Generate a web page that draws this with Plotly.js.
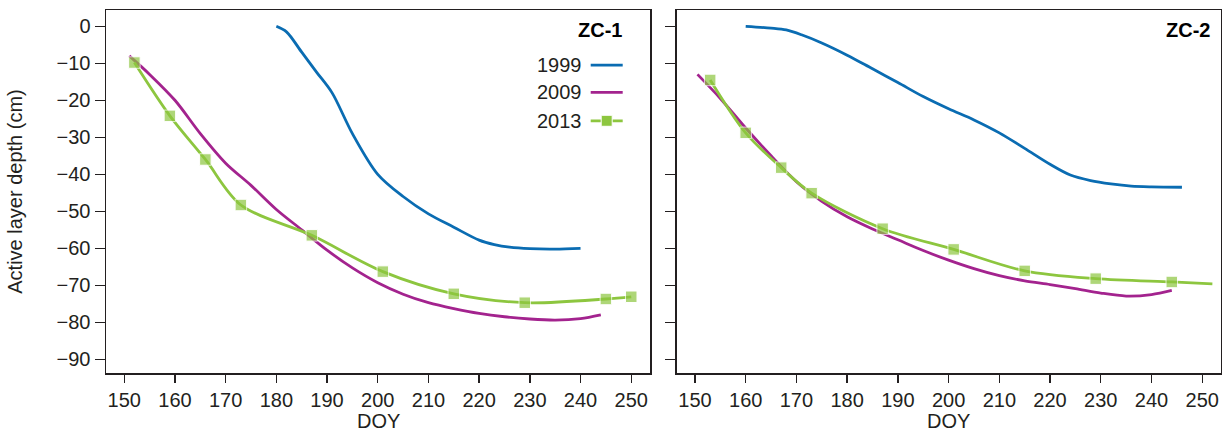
<!DOCTYPE html>
<html><head><meta charset="utf-8">
<script src="https://cdn.plot.ly/plotly-3.0.1.min.js"></script>
<style>html,body{margin:0;padding:0;background:#fff}#chart{width:1222px;height:432px}</style>
</head><body><div id="chart"></div>
<script>
// ---- Data (DOY vs active layer depth, cm) ----
const zc1_1999_doy   = [180,182,185,188,191,195,200,205,210,215,220,223,226,230,235,240];
const zc1_1999_depth = [0,-1.5,-7,-12.5,-18,-29,-40,-46,-50.7,-54.3,-57.8,-59,-59.7,-60.1,-60.2,-60];

const zc1_2009_doy   = [151,155,160,165,170,175,180,185,190,195,200,205,210,215,220,225,230,235,240,244];
const zc1_2009_depth = [-8,-13,-20,-29,-37,-43,-49.5,-55,-60.5,-65.3,-69.3,-72.4,-74.7,-76.3,-77.6,-78.5,-79.1,-79.4,-79,-78];

const zc1_2013_doy   = [152,159,166,173,187,201,215,229,245,250];
const zc1_2013_depth = [-9.8,-24.2,-36,-48.3,-56.5,-66.3,-72.3,-74.7,-73.7,-73.1];

const zc2_1999_doy   = [160,165,168,171,175,180,185,190,195,200,205,210,215,220,224,228,232,236,240,246];
const zc2_1999_depth = [0,-0.5,-1,-2.3,-4.5,-7.8,-11.5,-15.2,-19,-22.3,-25.3,-28.8,-33,-37.3,-40.2,-41.7,-42.6,-43.2,-43.4,-43.5];

const zc2_2009_doy   = [150.5,155,160,165,170,175,180,185,190,195,200,205,210,215,220,225,230,235,240,244];
const zc2_2009_depth = [-13,-19.5,-27.5,-35,-42,-47.3,-51.5,-54.8,-57.7,-60.6,-63.2,-65.5,-67.4,-68.8,-69.8,-70.9,-72.1,-72.9,-72.5,-71.4];

const zc2_2013_doy   = [153,160,167,173,187,201,215,229,244,252];
const zc2_2013_depth = [-14.5,-28.8,-38.2,-45.1,-54.7,-60.3,-66.1,-68.2,-69.1,-69.6];

const years = ["1999","2009","2013"];
const panels = ["ZC-1","ZC-2"];
const xTitle = "DOY";
const yTitle = "Active layer depth (cm)";

// ---- Styles ----
const C1999 = "#0a6cb2", C2009 = "#a3238e", C2013 = "#8dc63f";
const FONT = "Liberation Sans, Arial, Helvetica, sans-serif";
const INK = "#231f20";
const LW = 2.8;

function lineTrace(x, y, color, xa, ya) {
  return {x, y, xaxis: xa, yaxis: ya, type: "scatter", mode: "lines",
    line: {color, width: LW, shape: "spline", smoothing: 0.9}, showlegend: false, hoverinfo: "x+y"};
}
function markTrace(x, y, xa, ya, markedCount) {
  return {x, y, xaxis: xa, yaxis: ya, type: "scatter", mode: "lines+markers",
    line: {color: C2013, width: LW, shape: "spline", smoothing: 0.9},
    marker: {symbol: "square", color: C2013, size: x.map((v, i) => i < markedCount ? 11.5 : 0),
             line: {color: "#ffffff", width: 1}},
    showlegend: false, hoverinfo: "x+y"};
}

const data = [
  lineTrace(zc1_1999_doy, zc1_1999_depth, C1999, "x", "y"),
  lineTrace(zc1_2009_doy, zc1_2009_depth, C2009, "x", "y"),
  markTrace(zc1_2013_doy, zc1_2013_depth, "x", "y", zc1_2013_doy.length),
  lineTrace(zc2_1999_doy, zc2_1999_depth, C1999, "x2", "y2"),
  lineTrace(zc2_2009_doy, zc2_2009_depth, C2009, "x2", "y2"),
  markTrace(zc2_2013_doy, zc2_2013_depth, "x2", "y2", zc2_2013_doy.length - 1)
];

const W = 1222;
const FS = 20;
const xBase = {
  range: [146.4, 253.7], tick0: 150, dtick: 10, ticks: "outside", ticklen: 8, tickwidth: 1.4,
  tickcolor: INK, showline: true, linecolor: INK, linewidth: 1.5, mirror: true,
  showgrid: false, zeroline: false, tickfont: {family: FONT, size: FS, color: INK}
};
const yBase = {
  range: [-93.7, 4.4], tick0: 0, dtick: 10, ticks: "outside", ticklen: 10, tickwidth: 1.4,
  tickcolor: INK, showline: true, linecolor: INK, linewidth: 1.5, mirror: true,
  showgrid: false, zeroline: false, tickfont: {family: FONT, size: FS, color: INK}
};

const layout = {
  width: 1222, height: 432, paper_bgcolor: "#fff", plot_bgcolor: "#fff",
  margin: {l: 0, r: 0, t: 10, b: 59},
  showlegend: false,
  xaxis: Object.assign({}, xBase, {domain: [106 / W, 650 / W], anchor: "y"}),
  yaxis: Object.assign({}, yBase, {domain: [0, 1], anchor: "x",
    title: {text: yTitle, font: {family: FONT, size: FS, color: INK}, standoff: 28}}),
  xaxis2: Object.assign({}, xBase, {domain: [676.7 / W, 1221 / W], anchor: "y2"}),
  yaxis2: Object.assign({}, yBase, {domain: [0, 1], anchor: "x2", showticklabels: false}),
  annotations: [],
  shapes: []
};

// panel labels and x-axis titles
[["x domain", "y domain", 0], ["x2 domain", "y2 domain", 1]].forEach(([xr, yr, i]) => {
  const right = i === 0 ? (623 - 106) / 544 : (1210.5 - 676.7) / 544.3;
  layout.annotations.push({xref: xr, yref: yr, x: right, y: 0.944, xanchor: "right", yanchor: "middle",
    text: "<b>" + panels[i] + "</b>", showarrow: false, borderpad: 0,
    font: {family: FONT, size: FS, color: "#000"}});
  layout.annotations.push({xref: xr, yref: yr, x: 0.5, y: -(420.5 - 372.7) / 362.7,
    xanchor: "center", yanchor: "middle", text: xTitle, showarrow: false, borderpad: 0,
    font: {family: FONT, size: FS, color: INK}});
});

// manual legend (text left of symbol) in left panel
const legY = [0.8484, 0.7731, 0.6948];
const legCol = [C1999, C2009, C2013];
years.forEach((yr, i) => {
  layout.annotations.push({xref: "x domain", yref: "y domain", x: (583 - 106) / 544, y: legY[i],
    xanchor: "right", yanchor: "middle", text: yr, showarrow: false, borderpad: 0,
    font: {family: FONT, size: FS, color: INK}});
  layout.shapes.push({type: "line", xref: "x domain", yref: "y domain",
    x0: (590.7 - 106) / 544, x1: (622.7 - 106) / 544, y0: legY[i], y1: legY[i],
    line: {color: legCol[i], width: LW}});
});
const mx = (606.7 - 106) / 544, hw = 5.5 / 544, hh = 5.5 / 362.7;
layout.shapes.push({type: "rect", xref: "x domain", yref: "y domain",
  x0: mx - hw, x1: mx + hw, y0: legY[2] - hh, y1: legY[2] + hh,
  fillcolor: C2013, line: {color: "#fff", width: 1}});

Plotly.newPlot("chart", data, layout, {displayModeBar: false, staticPlot: true});
</script>
</body></html>
